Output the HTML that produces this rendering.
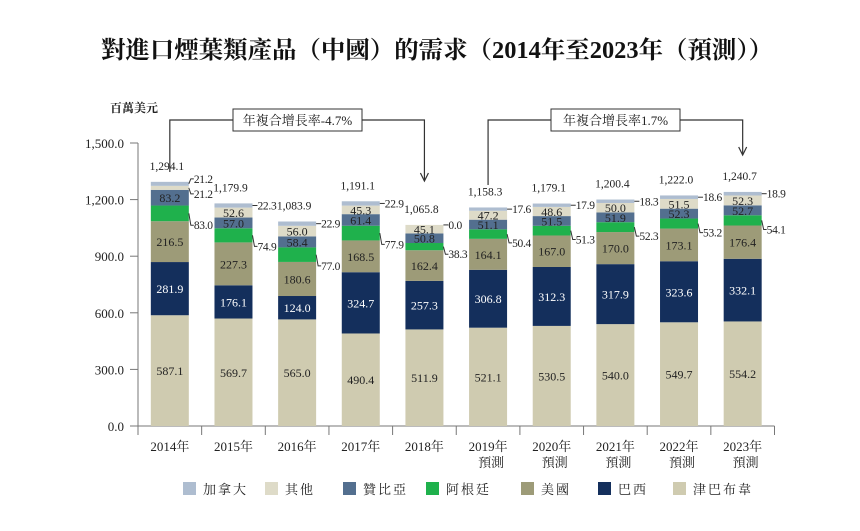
<!DOCTYPE html>
<html><head><meta charset="utf-8">
<style>
body{margin:0;background:#fff;}
svg{display:block;font-family:"Liberation Serif","Noto Serif CJK SC","Noto Sans CJK TC",serif;}
</style></head>
<body>
<svg id="chart" width="860" height="531" viewBox="0 0 860 531" xmlns="http://www.w3.org/2000/svg">
<text x="437" y="58" text-anchor="middle" font-size="24" font-weight="bold" fill="#111" textLength="672" lengthAdjust="spacingAndGlyphs">對進口煙葉類產品（中國）的需求（2014年至2023年（預測））</text>
<text x="110" y="112" font-size="12" font-weight="bold" fill="#222">百萬美元</text>
<g id="axes"></g>
<g id="bars"></g>
<g id="anno"></g>
<g id="legend"></g>
</svg>
<script>
const categories=["2014年","2015年","2016年","2017年","2018年","2019年","2020年","2021年","2022年","2023年"];
const forecast=[false,false,false,false,false,true,true,true,true,true];
const zimbabwe=[587.1,569.7,565.0,490.4,511.9,521.1,530.5,540.0,549.7,554.2];
const brazil=[281.9,176.1,124.0,324.7,257.3,306.8,312.3,317.9,323.6,332.1];
const usa=[216.5,227.3,180.6,168.5,162.4,164.1,167.0,170.0,173.1,176.4];
const argentina=[83.0,74.9,77.0,77.9,38.3,50.4,51.3,52.3,53.2,54.1];
const zambia=[83.2,57.0,58.4,61.4,50.8,51.1,51.5,51.9,52.3,52.7];
const other=[21.2,52.6,56.0,45.3,45.1,47.2,48.6,50.0,51.5,52.3];
const canada=[21.2,22.3,22.9,22.9,0.0,17.6,17.9,18.3,18.6,18.9];
const yTicks=[0,300,600,900,1200,1500];
const seriesNames=["加拿大","其他","贊比亞","阿根廷","美國","巴西","津巴布韋"];

const NS="http://www.w3.org/2000/svg";
const y0=426,yTop=143,vMax=1500;
const y=v=>y0-v*(y0-yTop)/vMax;
const xStart=138,step=63.65,bw=38;
const xc=i=>xStart+step*(i+0.5);
function mk(tag,attrs,parent,txt){const e=document.createElementNS(NS,tag);for(const k in attrs)e.setAttribute(k,attrs[k]);if(txt!==undefined)e.textContent=txt;parent.appendChild(e);return e;}
const fmt=v=>v.toLocaleString('en-US',{minimumFractionDigits:1,maximumFractionDigits:1});

const axes=document.getElementById('axes');
let el=mk('line',{x1:xStart,y1:yTop,x2:xStart,y2:y0,stroke:'#777','stroke-width':1},axes);


el=mk('line',{x1:xStart,y1:y0,x2:xStart+step*categories.length,y2:y0,stroke:'#777','stroke-width':1},axes);


yTicks.forEach(t=>{
  mk('line',{x1:xStart-8,y1:y(t),x2:xStart,y2:y(t),stroke:'#777'},axes);
  el=mk('text',{x:xStart-14,y:y(t)+5,'text-anchor':'end','font-size':13,fill:'#222'},axes,fmt(t));
  
  
});
for(let i=0;i<=categories.length;i++){mk('line',{x1:xStart+step*i,y1:y0,x2:xStart+step*i,y2:y0+9,stroke:'#777'},axes);}
categories.forEach((c,i)=>{
  el=mk('text',{x:xc(i),y:451,'text-anchor':'middle','font-size':13,fill:'#222'},axes,c);
  
  
  if(forecast[i]){el=mk('text',{x:xc(i)+3,y:467,'text-anchor':'middle','font-size':13,fill:'#222'},axes,'預測');
  
  }
});

const series=[zimbabwe,brazil,usa,argentina,zambia,other,canada];
const colors=["#cfcbb0","#142f5c","#9d9b78","#1fb14c","#536f8f","#dedbc8","#aebdd0"];
const names=["zimbabwe","brazil","usa","argentina","zambia","other","canada"];
const bars=document.getElementById('bars');
categories.forEach((c,i)=>{
  let acc=0;const x=xc(i)-bw/2;
  series.forEach((s,k)=>{
    const v=s[i];const yt=y(acc+v),yb=y(acc);
    el=mk('rect',{x:x,y:yt,width:bw,height:Math.max(0,yb-yt),fill:colors[k]},bars);
    
    
    const mid=(yt+yb)/2;
    const outside = k===6 || k===3 || (k===5 && i===0);
    if(!outside){
      el=mk('text',{x:xc(i),y:mid+4.5,'text-anchor':'middle','font-size':12,fill:k===1?'#fff':'#222'},bars,fmt(v));
      
      
    }else{
      let ly=mid;
      if(k===5&&i===0) ly=mid+6;
      if(k===3) ly=yb+4;
      if(k===6&&i===0) ly=yt-3;
      mk('polyline',{points:`${x+bw},${mid} ${x+bw+2},${ly} ${x+bw+5},${ly}`,fill:'none',stroke:'#333','stroke-width':1},bars);
      el=mk('text',{x:x+bw+5,y:ly+4,'font-size':11.5,fill:'#222','letter-spacing':-0.3},bars,fmt(v));
      
      
    }
    acc+=v;
  });
  el=mk('text',{x:xc(i)-3,y:y(acc)-12,'text-anchor':'middle','font-size':11.5,fill:'#222'},bars,acc.toLocaleString('en-US',{minimumFractionDigits:1,maximumFractionDigits:1}));
  
  
});

const anno=document.getElementById('anno');
function bracket(i1,i2,ys,ye,label,bx,bwid){
  const x1=xc(i1),x2=xc(i2);
  mk('polyline',{points:`${x1},${ys} ${x1},120 ${bx},120`,fill:'none',stroke:'#333','stroke-width':1.2},anno);
  mk('polyline',{points:`${bx+bwid},120 ${x2},120 ${x2},${ye}`,fill:'none',stroke:'#333','stroke-width':1.2},anno);
  mk('polyline',{points:`${x2-4},${ye-8} ${x2},${ye} ${x2+4},${ye-8}`,fill:'none',stroke:'#333','stroke-width':1.2},anno);
  mk('rect',{x:bx,y:109,width:bwid,height:22,fill:'#fff',stroke:'#333','stroke-width':1},anno);
  const t=mk('text',{x:bx+bwid/2,y:125,'text-anchor':'middle','font-size':13,fill:'#222'},anno,label);
  return t;
}
el=bracket(0,4,172,181,'年複合增長率-4.7%',233,129);


el=bracket(5,9,185,155,'年複合增長率1.7%',551,129);



const legend=document.getElementById('legend');
const legendColors=["#aebdd0","#dedbc8","#536f8f","#1fb14c","#9d9b78","#142f5c","#cfcbb0"];
const lx=[183,265,343,426,521,598,673];
seriesNames.forEach((n,k)=>{
  const g=mk('g',{},legend);
  
  
  mk('rect',{x:lx[k],y:482,width:13,height:13,fill:legendColors[k]},g);
  mk('text',{x:lx[k]+20,y:494,'font-size':13,fill:'#222','letter-spacing':2},g,n);
});
</script>
</body></html>
